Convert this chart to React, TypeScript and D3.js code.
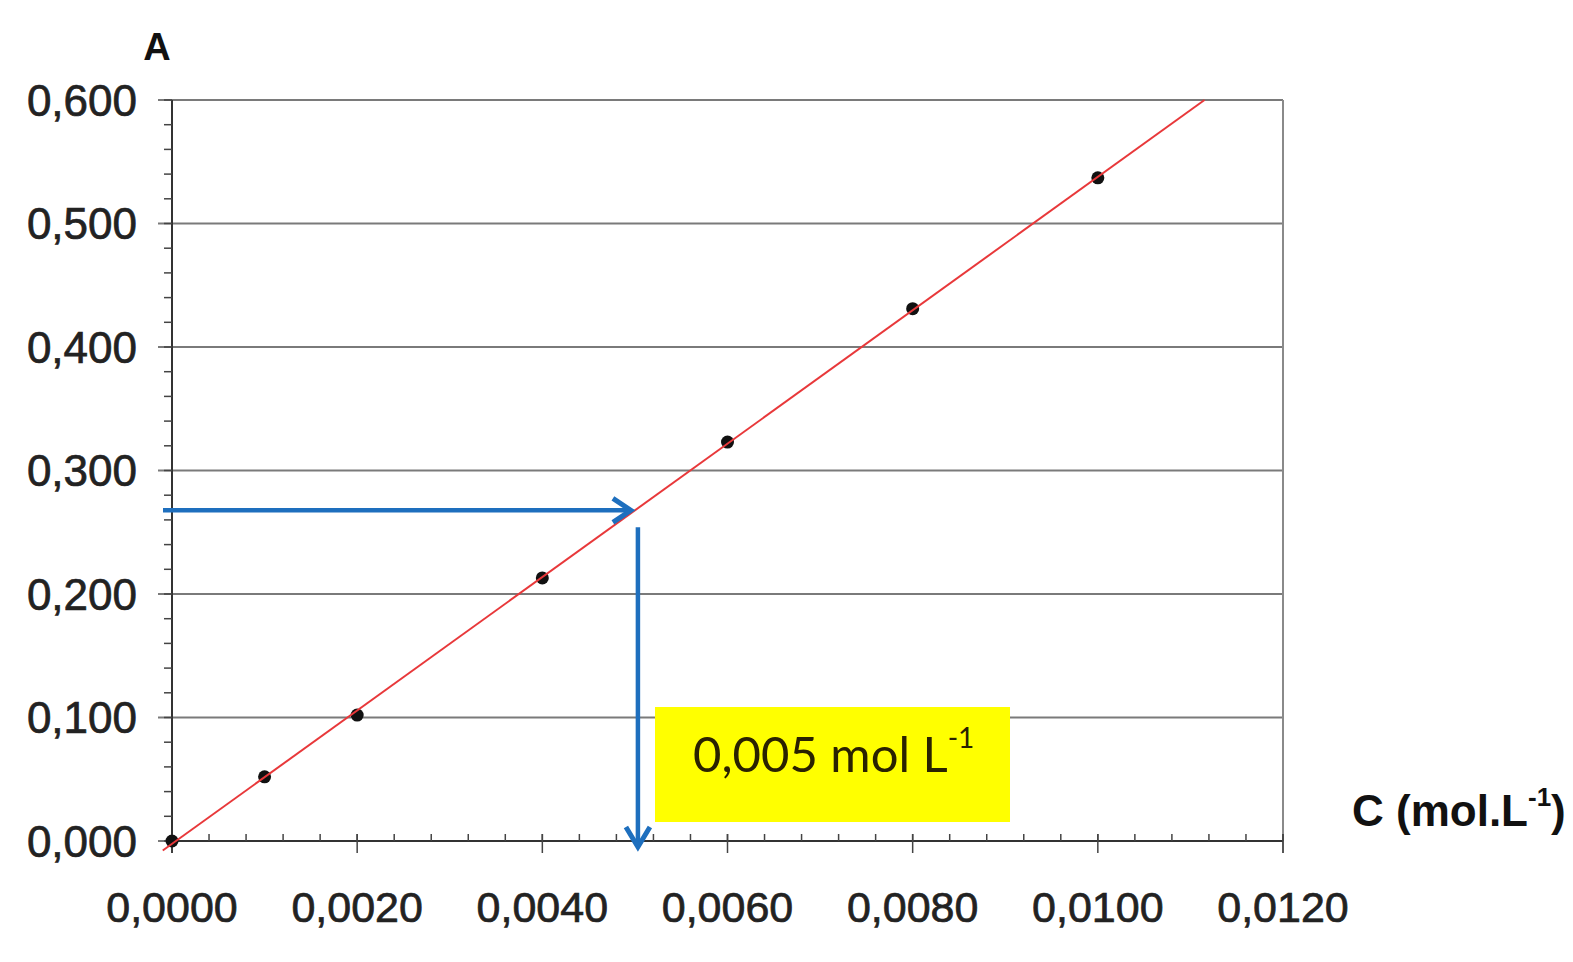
import React from 'react';
import * as d3 from 'd3';

// calibration data
const concentrations = [0, 0.001, 0.002, 0.004, 0.006, 0.008, 0.010];
const absorbances = [0, 0.052, 0.102, 0.213, 0.323, 0.431, 0.537];
const xTicks = [0, 0.002, 0.004, 0.006, 0.008, 0.010, 0.012];
const yTicks = [0, 0.1, 0.2, 0.3, 0.4, 0.5, 0.6];
const sampleC = 0.005;
const answerLabel = '0,005 mol L';

const W = 1573;
const H = 962;

const fr = d3.formatLocale({ decimal: ',', thousands: ' ', grouping: [3], currency: ['', ''] });
const fmtX = fr.format('.4f');
const fmtY = fr.format('.3f');

export default function App() {
    const x = d3.scaleLinear().domain([0, 0.012]).range([172, 1283]);
    const y = d3.scaleLinear().domain([0, 0.6]).range([841, 100]);

    // least squares trend line
    const mx = d3.mean(concentrations) as number;
    const my = d3.mean(absorbances) as number;
    const sxy = d3.sum(concentrations, (c, i) => (c - mx) * (absorbances[i] - my));
    const sxx = d3.sum(concentrations, c => (c - mx) * (c - mx));
    const slope = sxy / sxx;
    const icpt = my - slope * mx;
    const cStart = -0.0001;
    const cEnd = (0.6 - icpt) / slope;
    const line = d3.line<number>().x(c => x(c)).y(c => y(slope * c + icpt));

    const sampleA = slope * sampleC + icpt;
    const ay = y(sampleA);
    const ax = x(sampleC);

    const minorX = d3.range(0, 0.0120001, 0.0004);
    const minorY = d3.range(0, 0.60001, 0.02);
    const labelFont = '"Liberation Sans", Arial, sans-serif';
    const blue = '#1e6fbe';

    return (
        <svg width={W} height={H} style={{ position: 'absolute', left: 0, top: 0, background: '#fff' }}>
            {/* gridlines */}
            {yTicks.map(t => (
                <line key={'g' + t} x1={158} x2={x(0.012)} y1={y(t)} y2={y(t)} stroke="#7a7a7a" strokeWidth={2} />
            ))}
            {/* right border */}
            <line x1={x(0.012)} x2={x(0.012)} y1={y(0.6)} y2={y(0) + 12} stroke="#8a8a8a" strokeWidth={2} />
            {/* axes */}
            <line x1={x(0)} x2={x(0)} y1={y(0.6)} y2={y(0) + 12} stroke="#333" strokeWidth={2} />
            <line x1={x(0)} x2={x(0.012)} y1={y(0)} y2={y(0)} stroke="#333" strokeWidth={2} />
            {minorY.map(t => (
                <line key={'my' + t} x1={x(0) - 8} x2={x(0)} y1={y(t)} y2={y(t)} stroke="#444" strokeWidth={1.5} />
            ))}
            {minorX.map(t => (
                <line key={'mx' + t} x1={x(t)} x2={x(t)} y1={y(0) - 7} y2={y(0)} stroke="#444" strokeWidth={1.5} />
            ))}
            {xTicks.map(t => (
                <line key={'tx' + t} x1={x(t)} x2={x(t)} y1={y(0) - 7} y2={y(0) + 12} stroke="#444" strokeWidth={1.5} />
            ))}

            {/* tick labels */}
            {yTicks.map(t => (
                <text key={'ly' + t} x={137} y={y(t)} dy="0.36em" textAnchor="end" fontFamily={labelFont}
                    fontSize={44} fill="#222" stroke="#222" strokeWidth={0.7}>{fmtY(t)}</text>
            ))}
            {xTicks.map(t => (
                <text key={'lx' + t} x={x(t)} y={922} textAnchor="middle" fontFamily={labelFont}
                    fontSize={43} fill="#222" stroke="#222" strokeWidth={0.7}>{fmtX(t)}</text>
            ))}

            {/* axis titles */}
            <text x={157} y={60} textAnchor="middle" fontFamily={labelFont} fontWeight="bold" fontSize={38} fill="#111">A</text>
            <text x={1352} y={826} fontFamily={labelFont} fontWeight="bold" fontSize={44} fill="#111">
                C (mol.L<tspan fontSize={26} dy={-20}>-1</tspan><tspan dy={20}>)</tspan>
            </text>

            {/* data points */}
            {concentrations.map((c, i) => (
                <circle key={'p' + i} cx={x(c)} cy={y(absorbances[i])} r={6.5} fill="#111" />
            ))}

            {/* trend line */}
            <path d={line([cStart, cEnd]) as string} fill="none" stroke="#e8383a" strokeWidth={2} />

            {/* reading arrows */}
            <line x1={163} x2={ax - 4} y1={ay} y2={ay} stroke={blue} strokeWidth={4.5} />
            <polyline points={`${ax - 22},${ay - 12} ${ax - 4},${ay} ${ax - 22},${ay + 12}`} fill="none"
                stroke={blue} strokeWidth={5} strokeLinejoin="miter" />
            <line x1={ax + 3} x2={ax + 3} y1={ay + 17} y2={y(0) + 6} stroke={blue} strokeWidth={4.5} />
            <polyline points={`${ax - 9},${y(0) - 14} ${ax + 3},${y(0) + 6} ${ax + 15},${y(0) - 14}`} fill="none"
                stroke={blue} strokeWidth={5} strokeLinejoin="miter" />

            {/* answer box */}
            <rect x={655} y={707} width={355} height={115} fill="#ffff00" />
            <text x={693} y={772} fontFamily="Lato, 'Open Sans', sans-serif" fontSize={49} fill="#2a2200">
                {answerLabel}<tspan fontSize={28} dy={-24}>-1</tspan>
            </text>
        </svg>
    );
}
